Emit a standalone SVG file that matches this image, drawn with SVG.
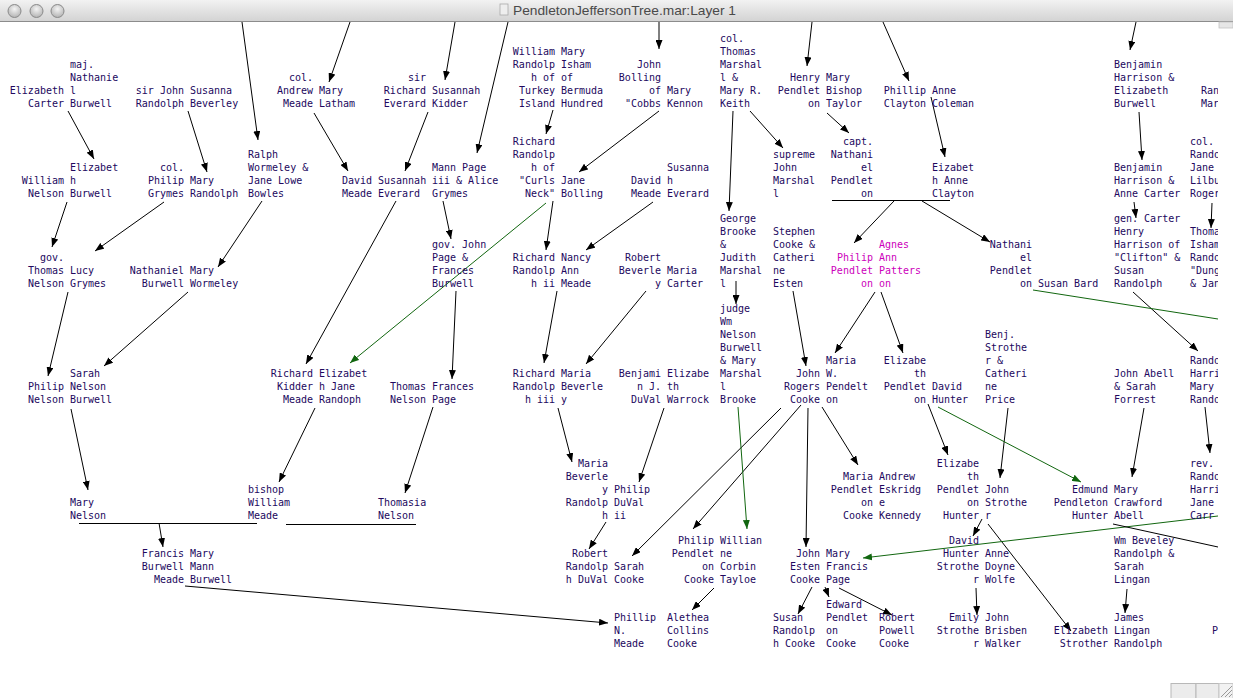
<svg xmlns="http://www.w3.org/2000/svg" width="1233" height="698" viewBox="0 0 1233 698">
<style>
.t{font-family:"DejaVu Sans Mono","Liberation Mono",monospace;font-size:10px;fill:#22085e}
.e{text-anchor:end}
.m{fill:#cc00bb}
.c{stroke:#000;stroke-width:1;fill:none;marker-end:url(#ah)}
.g{stroke:#11660f;stroke-width:1;fill:none;marker-end:url(#ag)}
.gl{stroke:#11660f;stroke-width:1;fill:none}
.ln{stroke:#000;stroke-width:1;fill:none}
</style>
<defs>
<marker id="ah" viewBox="0 0 9 7" refX="9" refY="3.5" markerWidth="9" markerHeight="7" markerUnits="userSpaceOnUse" orient="auto"><path d="M0,0 L9,3.5 L0,7 z" fill="#000"/></marker>
<marker id="ag" viewBox="0 0 9 7" refX="9" refY="3.5" markerWidth="9" markerHeight="7" markerUnits="userSpaceOnUse" orient="auto"><path d="M0,0 L9,3.5 L0,7 z" fill="#11660f"/></marker>
<linearGradient id="tb" x1="0" y1="0" x2="0" y2="1"><stop offset="0" stop-color="#f2f2f2"/><stop offset="1" stop-color="#d2d2d2"/></linearGradient>
<radialGradient id="bt" cx="0.5" cy="0.35" r="0.6"><stop offset="0" stop-color="#f4f4f4"/><stop offset="1" stop-color="#b8b8b8"/></radialGradient>
<clipPath id="cc"><rect x="0" y="22" width="1218" height="676"/></clipPath>
</defs>
<rect x="0" y="0" width="1233" height="698" fill="#fff"/>
<g clip-path="url(#cc)">
<g id="connectors">
<line class="c" x1="242" y1="22" x2="258" y2="140"/>
<line class="c" x1="350" y1="22" x2="329" y2="82"/>
<line class="c" x1="455" y1="22" x2="445" y2="80"/>
<line class="c" x1="508" y1="22" x2="477" y2="153"/>
<line class="c" x1="659" y1="22" x2="659" y2="49"/>
<line class="c" x1="812" y1="22" x2="807" y2="66"/>
<line class="c" x1="883" y1="22" x2="909" y2="81"/>
<line class="c" x1="1136" y1="22" x2="1130" y2="50"/>
<line class="c" x1="68" y1="111" x2="94" y2="159"/>
<line class="c" x1="188" y1="111" x2="207" y2="172"/>
<line class="c" x1="67" y1="202" x2="52" y2="247"/>
<line class="c" x1="164" y1="202" x2="95" y2="251"/>
<line class="c" x1="262" y1="201" x2="218" y2="267"/>
<line class="c" x1="68" y1="292" x2="48" y2="376"/>
<line class="c" x1="188" y1="292" x2="104" y2="366"/>
<line class="c" x1="314" y1="113" x2="348" y2="171"/>
<line class="c" x1="428" y1="112" x2="405" y2="171"/>
<line class="c" x1="553" y1="110" x2="546" y2="134"/>
<line class="c" x1="396" y1="201" x2="306" y2="364"/>
<line class="c" x1="443" y1="201" x2="451" y2="239"/>
<line class="c" x1="553" y1="201" x2="546" y2="250"/>
<line class="c" x1="659" y1="111" x2="579" y2="172"/>
<line class="c" x1="653" y1="202" x2="586" y2="250"/>
<line class="c" x1="456" y1="291" x2="452" y2="379"/>
<line class="c" x1="557" y1="291" x2="544" y2="363"/>
<line class="c" x1="733" y1="111" x2="729" y2="211"/>
<line class="c" x1="750" y1="111" x2="783" y2="148"/>
<line class="c" x1="827" y1="113" x2="849" y2="133"/>
<line class="c" x1="894" y1="201" x2="854" y2="243"/>
<line class="c" x1="922" y1="201" x2="990" y2="242"/>
<line class="c" x1="931" y1="97" x2="945" y2="157"/>
<line class="c" x1="1139" y1="112" x2="1142" y2="160"/>
<line class="c" x1="1134" y1="202" x2="1136" y2="218"/>
<line class="c" x1="1212" y1="203" x2="1211" y2="228"/>
<line class="c" x1="1133" y1="292" x2="1198" y2="351"/>
<line class="c" x1="1205" y1="407" x2="1210" y2="453"/>
<line class="c" x1="793" y1="291" x2="806" y2="366"/>
<line class="c" x1="875" y1="292" x2="835" y2="353"/>
<line class="c" x1="881" y1="292" x2="903" y2="353"/>
<line class="c" x1="736" y1="281" x2="736" y2="304"/>
<line class="c" x1="646" y1="291" x2="586" y2="364"/>
<line class="c" x1="558" y1="408" x2="572" y2="462"/>
<line class="c" x1="664" y1="408" x2="639" y2="482"/>
<line class="c" x1="606" y1="522" x2="589" y2="549"/>
<line class="c" x1="781" y1="408" x2="632" y2="556"/>
<line class="c" x1="801" y1="405" x2="693" y2="529"/>
<line class="c" x1="808" y1="408" x2="806" y2="547"/>
<line class="c" x1="822" y1="407" x2="858" y2="465"/>
<line class="c" x1="714" y1="588" x2="692" y2="610"/>
<line class="c" x1="185" y1="586" x2="608" y2="623"/>
<line class="c" x1="812" y1="587" x2="798" y2="614"/>
<line class="c" x1="825" y1="587" x2="829" y2="597"/>
<line class="c" x1="839" y1="588" x2="892" y2="615"/>
<line class="c" x1="928" y1="404" x2="948" y2="455"/>
<line class="c" x1="1008" y1="408" x2="1000" y2="478"/>
<line class="c" x1="1144" y1="408" x2="1132" y2="477"/>
<line class="c" x1="982" y1="519" x2="973" y2="536"/>
<line class="c" x1="988" y1="524" x2="1071" y2="631"/>
<line class="c" x1="976" y1="588" x2="977" y2="615"/>
<line class="c" x1="1127" y1="589" x2="1125" y2="613"/>
<line class="c" x1="433" y1="407" x2="405" y2="493"/>
<line class="c" x1="315" y1="408" x2="279" y2="482"/>
<line class="c" x1="71" y1="409" x2="88" y2="490"/>
<line class="c" x1="159" y1="523" x2="163" y2="547"/>
<line class="g" x1="546" y1="203" x2="350" y2="363"/>
<line class="g" x1="738" y1="407" x2="747" y2="529"/>
<line class="g" x1="1218" y1="516" x2="863" y2="558"/>
<line class="g" x1="938" y1="407" x2="1081" y2="482"/>
<line class="gl" x1="1033" y1="290" x2="1218" y2="319"/>
<line class="ln" x1="1113" y1="524" x2="1218" y2="547"/>
<line class="ln" x1="832" y1="200.5" x2="950" y2="200.5"/>
<line class="ln" x1="79" y1="523.5" x2="257" y2="523.5"/>
<line class="ln" x1="286" y1="524.5" x2="416" y2="524.5"/>
</g>
<g id="n1" class="t"><text class="e" x="64" y="94">Elizabeth</text><text class="e" x="64" y="107">Carter</text><text x="70" y="68">maj.</text><text x="70" y="81">Nathanie</text><text x="70" y="94">l</text><text x="70" y="107">Burwell</text></g>
<g id="n2" class="t"><text class="e" x="184" y="94">sir John</text><text class="e" x="184" y="107">Randolph</text><text x="190" y="94">Susanna</text><text x="190" y="107">Beverley</text></g>
<g id="n8" class="t"><text class="e" x="313" y="81">col.</text><text class="e" x="313" y="94">Andrew</text><text class="e" x="313" y="107">Meade</text><text x="319" y="94">Mary</text><text x="319" y="107">Latham</text></g>
<g id="n9" class="t"><text class="e" x="426" y="81">sir</text><text class="e" x="426" y="94">Richard</text><text class="e" x="426" y="107">Everard</text><text x="432" y="94">Susannah</text><text x="432" y="107">Kidder</text></g>
<g id="n10" class="t"><text class="e" x="555" y="55">William</text><text class="e" x="555" y="68">Randolp</text><text class="e" x="555" y="81">h of</text><text class="e" x="555" y="94">Turkey</text><text class="e" x="555" y="107">Island</text><text x="561" y="55">Mary</text><text x="561" y="68">Isham</text><text x="561" y="81">of</text><text x="561" y="94">Bermuda</text><text x="561" y="107">Hundred</text></g>
<g id="n16" class="t"><text class="e" x="661" y="68">John</text><text class="e" x="661" y="81">Bolling</text><text class="e" x="661" y="94">of</text><text class="e" x="661" y="107">"Cobbs</text><text x="667" y="94">Mary</text><text x="667" y="107">Kennon</text></g>
<g id="n17" class="t"><text x="720" y="42">col.</text><text x="720" y="55">Thomas</text><text x="720" y="68">Marshal</text><text x="720" y="81">l &amp;</text><text x="720" y="94">Mary R.</text><text x="720" y="107">Keith</text></g>
<g id="n18" class="t"><text class="e" x="820" y="81">Henry</text><text class="e" x="820" y="94">Pendlet</text><text class="e" x="820" y="107">on</text><text x="826" y="81">Mary</text><text x="826" y="94">Bishop</text><text x="826" y="107">Taylor</text></g>
<g id="n26" class="t"><text class="e" x="926" y="94">Phillip</text><text class="e" x="926" y="107">Clayton</text><text x="932" y="94">Anne</text><text x="932" y="107">Coleman</text></g>
<g id="n29" class="t"><text x="1114" y="68">Benjamin</text><text x="1114" y="81">Harrison &amp;</text><text x="1114" y="94">Elizabeth</text><text x="1114" y="107">Burwell</text></g>
<g id="n30" class="t"><text x="1201" y="94">Ran</text><text x="1201" y="107">Mar</text></g>
<g id="n3" class="t"><text class="e" x="64" y="184">William</text><text class="e" x="64" y="197">Nelson</text><text x="70" y="171">Elizabet</text><text x="70" y="184">h</text><text x="70" y="197">Burwell</text></g>
<g id="n4" class="t"><text class="e" x="184" y="171">col.</text><text class="e" x="184" y="184">Philip</text><text class="e" x="184" y="197">Grymes</text><text x="190" y="184">Mary</text><text x="190" y="197">Randolph</text></g>
<g id="n5" class="t"><text x="248" y="158">Ralph</text><text x="248" y="171">Wormeley &amp;</text><text x="248" y="184">Jane Lowe</text><text x="248" y="197">Bowles</text></g>
<g id="n11" class="t"><text class="e" x="372" y="184">David</text><text class="e" x="372" y="197">Meade</text><text x="378" y="184">Susannah</text><text x="378" y="197">Everard</text></g>
<g id="n12" class="t"><text x="432" y="171">Mann Page</text><text x="432" y="184">iii &amp; Alice</text><text x="432" y="197">Grymes</text></g>
<g id="n13" class="t"><text class="e" x="555" y="145">Richard</text><text class="e" x="555" y="158">Randolp</text><text class="e" x="555" y="171">h of</text><text class="e" x="555" y="184">"Curls</text><text class="e" x="555" y="197">Neck"</text><text x="561" y="184">Jane</text><text x="561" y="197">Bolling</text></g>
<g id="n19" class="t"><text class="e" x="661" y="184">David</text><text class="e" x="661" y="197">Meade</text><text x="667" y="171">Susanna</text><text x="667" y="184">h</text><text x="667" y="197">Everard</text></g>
<g id="n20" class="t"><text x="773" y="158">supreme</text><text x="773" y="171">John</text><text x="773" y="184">Marshal</text><text x="773" y="197">l</text></g>
<g id="n21" class="t"><text class="e" x="873" y="145">capt.</text><text class="e" x="873" y="158">Nathani</text><text class="e" x="873" y="171">el</text><text class="e" x="873" y="184">Pendlet</text><text class="e" x="873" y="197">on</text></g>
<g id="n27" class="t"><text x="932" y="171">Eizabet</text><text x="932" y="184">h Anne</text><text x="932" y="197">Clayton</text></g>
<g id="n31" class="t"><text x="1114" y="171">Benjamin</text><text x="1114" y="184">Harrison &amp;</text><text x="1114" y="197">Anne Carter</text></g>
<g id="n32" class="t"><text x="1190" y="145">col.</text><text x="1190" y="158">Rando</text><text x="1190" y="171">Jane</text><text x="1190" y="184">Lilbu</text><text x="1190" y="197">Roger</text></g>
<g id="n6" class="t"><text class="e" x="64" y="261">gov.</text><text class="e" x="64" y="274">Thomas</text><text class="e" x="64" y="287">Nelson</text><text x="70" y="274">Lucy</text><text x="70" y="287">Grymes</text></g>
<g id="n7" class="t"><text class="e" x="184" y="274">Nathaniel</text><text class="e" x="184" y="287">Burwell</text><text x="190" y="274">Mary</text><text x="190" y="287">Wormeley</text></g>
<g id="n14" class="t"><text x="432" y="248">gov. John</text><text x="432" y="261">Page &amp;</text><text x="432" y="274">Frances</text><text x="432" y="287">Burwell</text></g>
<g id="n15" class="t"><text class="e" x="555" y="261">Richard</text><text class="e" x="555" y="274">Randolp</text><text class="e" x="555" y="287">h ii</text><text x="561" y="261">Nancy</text><text x="561" y="274">Ann</text><text x="561" y="287">Meade</text></g>
<g id="n22" class="t"><text x="720" y="222">George</text><text x="720" y="235">Brooke</text><text x="720" y="248">&amp;</text><text x="720" y="261">Judith</text><text x="720" y="274">Marshal</text><text x="720" y="287">l</text></g>
<g id="n23" class="t"><text x="773" y="235">Stephen</text><text x="773" y="248">Cooke &amp;</text><text x="773" y="261">Catheri</text><text x="773" y="274">ne</text><text x="773" y="287">Esten</text></g>
<g id="n24" class="t"><text class="e" x="661" y="261">Robert</text><text class="e" x="661" y="274">Beverle</text><text class="e" x="661" y="287">y</text><text x="667" y="274">Maria</text><text x="667" y="287">Carter</text></g>
<g id="n25" class="t m"><text class="e m" x="873" y="261">Philip</text><text class="e m" x="873" y="274">Pendlet</text><text class="e m" x="873" y="287">on</text><text class="m" x="879" y="248">Agnes</text><text class="m" x="879" y="261">Ann</text><text class="m" x="879" y="274">Patters</text><text class="m" x="879" y="287">on</text></g>
<g id="n28" class="t"><text class="e" x="1032" y="248">Nathani</text><text class="e" x="1032" y="261">el</text><text class="e" x="1032" y="274">Pendlet</text><text class="e" x="1032" y="287">on</text><text x="1038" y="287">Susan Bard</text></g>
<g id="n33" class="t"><text x="1114" y="222">gen. Carter</text><text x="1114" y="235">Henry</text><text x="1114" y="248">Harrison of</text><text x="1114" y="261">"Clifton" &amp;</text><text x="1114" y="274">Susan</text><text x="1114" y="287">Randolph</text></g>
<g id="n34" class="t"><text x="1190" y="235">Thoma</text><text x="1190" y="248">Isham</text><text x="1190" y="261">Rando</text><text x="1190" y="274">"Dung</text><text x="1190" y="287">&amp; Jan</text></g>
<g id="n35" class="t"><text class="e" x="64" y="390">Philip</text><text class="e" x="64" y="403">Nelson</text><text x="70" y="377">Sarah</text><text x="70" y="390">Nelson</text><text x="70" y="403">Burwell</text></g>
<g id="n39" class="t"><text class="e" x="313" y="377">Richard</text><text class="e" x="313" y="390">Kidder</text><text class="e" x="313" y="403">Meade</text><text x="319" y="377">Elizabet</text><text x="319" y="390">h Jane</text><text x="319" y="403">Randoph</text></g>
<g id="n40" class="t"><text class="e" x="426" y="390">Thomas</text><text class="e" x="426" y="403">Nelson</text><text x="432" y="390">Frances</text><text x="432" y="403">Page</text></g>
<g id="n42" class="t"><text class="e" x="555" y="377">Richard</text><text class="e" x="555" y="390">Randolp</text><text class="e" x="555" y="403">h iii</text><text x="561" y="377">Maria</text><text x="561" y="390">Beverle</text><text x="561" y="403">y</text></g>
<g id="n43" class="t"><text class="e" x="661" y="377">Benjami</text><text class="e" x="661" y="390">n J.</text><text class="e" x="661" y="403">DuVal</text><text x="667" y="377">Elizabe</text><text x="667" y="390">th</text><text x="667" y="403">Warrock</text></g>
<g id="n44" class="t"><text x="720" y="312">judge</text><text x="720" y="325">Wm</text><text x="720" y="338">Nelson</text><text x="720" y="351">Burwell</text><text x="720" y="364">&amp; Mary</text><text x="720" y="377">Marshal</text><text x="720" y="390">l</text><text x="720" y="403">Brooke</text></g>
<g id="n45" class="t"><text class="e" x="820" y="377">John</text><text class="e" x="820" y="390">Rogers</text><text class="e" x="820" y="403">Cooke</text><text x="826" y="364">Maria</text><text x="826" y="377">W.</text><text x="826" y="390">Pendelt</text><text x="826" y="403">on</text></g>
<g id="n56" class="t"><text class="e" x="926" y="364">Elizabe</text><text class="e" x="926" y="377">th</text><text class="e" x="926" y="390">Pendlet</text><text class="e" x="926" y="403">on</text><text x="932" y="390">David</text><text x="932" y="403">Hunter</text></g>
<g id="n57" class="t"><text x="985" y="338">Benj.</text><text x="985" y="351">Strothe</text><text x="985" y="364">r &amp;</text><text x="985" y="377">Catheri</text><text x="985" y="390">ne</text><text x="985" y="403">Price</text></g>
<g id="n58" class="t"><text x="1114" y="377">John Abell</text><text x="1114" y="390">&amp; Sarah</text><text x="1114" y="403">Forrest</text></g>
<g id="n59" class="t"><text x="1190" y="364">Rando</text><text x="1190" y="377">Harri</text><text x="1190" y="390">Mary</text><text x="1190" y="403">Rando</text></g>
<g id="n36" class="t"><text x="70" y="506">Mary</text><text x="70" y="519">Nelson</text></g>
<g id="n38" class="t"><text x="248" y="493">bishop</text><text x="248" y="506">William</text><text x="248" y="519">Meade</text></g>
<g id="n41" class="t"><text x="378" y="506">Thomasia</text><text x="378" y="519">Nelson</text></g>
<g id="n46" class="t"><text class="e" x="608" y="467">Maria</text><text class="e" x="608" y="480">Beverle</text><text class="e" x="608" y="493">y</text><text class="e" x="608" y="506">Randolp</text><text class="e" x="608" y="519">h</text><text x="614" y="493">Philip</text><text x="614" y="506">DuVal</text><text x="614" y="519">ii</text></g>
<g id="n54" class="t"><text class="e" x="873" y="480">Maria</text><text class="e" x="873" y="493">Pendlet</text><text class="e" x="873" y="506">on</text><text class="e" x="873" y="519">Cooke</text><text x="879" y="480">Andrew</text><text x="879" y="493">Eskridg</text><text x="879" y="506">e</text><text x="879" y="519">Kennedy</text></g>
<g id="n60" class="t"><text class="e" x="979" y="467">Elizabe</text><text class="e" x="979" y="480">th</text><text class="e" x="979" y="493">Pendlet</text><text class="e" x="979" y="506">on</text><text class="e" x="979" y="519">Hunter</text><text x="985" y="493">John</text><text x="985" y="506">Strothe</text><text x="985" y="519">r</text></g>
<g id="n61" class="t"><text class="e" x="1108" y="493">Edmund</text><text class="e" x="1108" y="506">Pendleton</text><text class="e" x="1108" y="519">Hunter</text><text x="1114" y="493">Mary</text><text x="1114" y="506">Crawford</text><text x="1114" y="519">Abell</text></g>
<g id="n62" class="t"><text x="1190" y="467">rev.</text><text x="1190" y="480">Rando</text><text x="1190" y="493">Harri</text><text x="1190" y="506">Jane</text><text x="1190" y="519">Carr</text></g>
<g id="n37" class="t"><text class="e" x="184" y="557">Francis</text><text class="e" x="184" y="570">Burwell</text><text class="e" x="184" y="583">Meade</text><text x="190" y="557">Mary</text><text x="190" y="570">Mann</text><text x="190" y="583">Burwell</text></g>
<g id="n47" class="t"><text class="e" x="608" y="557">Robert</text><text class="e" x="608" y="570">Randolp</text><text class="e" x="608" y="583">h DuVal</text><text x="614" y="570">Sarah</text><text x="614" y="583">Cooke</text></g>
<g id="n48" class="t"><text class="e" x="714" y="544">Philip</text><text class="e" x="714" y="557">Pendlet</text><text class="e" x="714" y="570">on</text><text class="e" x="714" y="583">Cooke</text><text x="720" y="544">Willian</text><text x="720" y="557">ne</text><text x="720" y="570">Corbin</text><text x="720" y="583">Tayloe</text></g>
<g id="n51" class="t"><text class="e" x="820" y="557">John</text><text class="e" x="820" y="570">Esten</text><text class="e" x="820" y="583">Cooke</text><text x="826" y="557">Mary</text><text x="826" y="570">Francis</text><text x="826" y="583">Page</text></g>
<g id="n63" class="t"><text class="e" x="979" y="544">David</text><text class="e" x="979" y="557">Hunter</text><text class="e" x="979" y="570">Strothe</text><text class="e" x="979" y="583">r</text><text x="985" y="557">Anne</text><text x="985" y="570">Doyne</text><text x="985" y="583">Wolfe</text></g>
<g id="n64" class="t"><text x="1114" y="544">Wm Beveley</text><text x="1114" y="557">Randolph &amp;</text><text x="1114" y="570">Sarah</text><text x="1114" y="583">Lingan</text></g>
<g id="n49" class="t"><text x="614" y="621">Phillip</text><text x="614" y="634">N.</text><text x="614" y="647">Meade</text></g>
<g id="n50" class="t"><text x="667" y="621">Alethea</text><text x="667" y="634">Collins</text><text x="667" y="647">Cooke</text></g>
<g id="n52" class="t"><text x="773" y="621">Susan</text><text x="773" y="634">Randolp</text><text x="773" y="647">h Cooke</text></g>
<g id="n53" class="t"><text x="826" y="608">Edward</text><text x="826" y="621">Pendlet</text><text x="826" y="634">on</text><text x="826" y="647">Cooke</text></g>
<g id="n55" class="t"><text x="879" y="621">Robert</text><text x="879" y="634">Powell</text><text x="879" y="647">Cooke</text></g>
<g id="n65" class="t"><text class="e" x="979" y="621">Emily</text><text class="e" x="979" y="634">Strothe</text><text class="e" x="979" y="647">r</text><text x="985" y="621">John</text><text x="985" y="634">Brisben</text><text x="985" y="647">Walker</text></g>
<g id="n66" class="t"><text class="e" x="1108" y="634">Elizabeth</text><text class="e" x="1108" y="647">Strother</text><text x="1114" y="621">James</text><text x="1114" y="634">Lingan</text><text x="1114" y="647">Randolph</text></g>
<g id="n67" class="t"><text x="1212" y="634">P</text></g>
</g>
<g id="window">
<rect x="0" y="0" width="1233" height="22" fill="url(#tb)"/>
<line x1="0" y1="21.5" x2="1233" y2="21.5" stroke="#8c8c8c"/>
<circle cx="14.5" cy="11" r="6.5" fill="url(#bt)" stroke="#8a8a8a"/>
<circle cx="36.5" cy="11" r="6.5" fill="url(#bt)" stroke="#8a8a8a"/>
<circle cx="57.5" cy="11" r="6.5" fill="url(#bt)" stroke="#8a8a8a"/>
<rect x="500" y="4" width="8" height="11" fill="#eee" stroke="#aaa" stroke-width="0.8"/>
<text x="513" y="15" font-family="'Liberation Sans',Arial,sans-serif" font-size="13" fill="#4a4a4a" textLength="223" lengthAdjust="spacingAndGlyphs">PendletonJeffersonTree.mar:Layer 1</text>
<rect x="1219" y="22" width="14" height="6" fill="#e6e6e6" stroke="#c4c4c4" stroke-width="0.8"/>
<rect x="1171" y="683.5" width="25" height="15" fill="#ececec" stroke="#b8b8b8"/>
<rect x="1196" y="683.5" width="23" height="15" fill="#ececec" stroke="#b8b8b8"/>
<rect x="1219" y="683.5" width="14" height="15" fill="#f2f2f2" stroke="#c8c8c8"/>
<path d="M1221,697 L1232,686 M1225,697 L1232,690 M1229,697 L1232,694" stroke="#999" stroke-width="1"/>
</g>
</svg>
